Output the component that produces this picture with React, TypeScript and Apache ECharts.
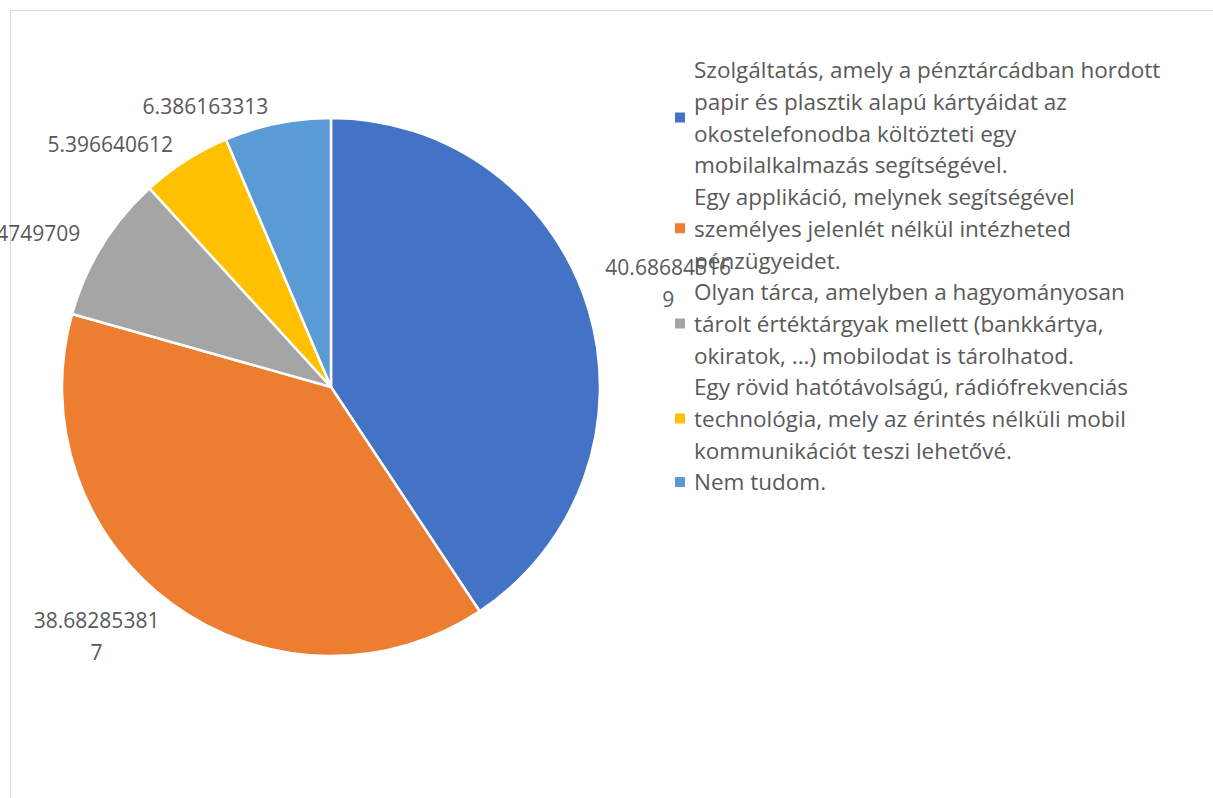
import React, { useEffect, useRef } from "react";
import * as echarts from "echarts";

const categories = [
  "Szolgáltatás, amely a pénztárcádban hordott\npapir és plasztik alapú kártyáidat az\nokostelefonodba költözteti egy\nmobilalkalmazás segítségével.",
  "Egy applikáció, melynek segítségével\nszemélyes jelenlét nélkül intézheted\npénzügyeidet.",
  "Olyan tárca, amelyben a hagyományosan\ntárolt értéktárgyak mellett (bankkártya,\nokiratok, ...) mobilodat is tárolhatod.",
  "Egy rövid hatótávolságú, rádiófrekvenciás\ntechnológia, mely az érintés nélküli mobil\nkommunikációt teszi lehetővé.",
  "Nem tudom.",
];
const values = [40.686845169, 38.682853817, 8.84749709, 5.396640612, 6.386163313];
const colors = ["#4472C4", "#ED7D31", "#A5A5A5", "#FFC000", "#5B9BD5"];

const FONT = "'Open Sans', 'Noto Sans', sans-serif";
const TEXT_COLOR = "#595959";
const VIEW_SHIFT = 100;
const CX = 331;
const CY = 387;

export default function App() {
  const ref = useRef<HTMLDivElement>(null);
  useEffect(() => {
    if (!ref.current) return;
    const chart = echarts.init(ref.current, undefined, { renderer: "svg" });
    chart.setOption({
      animation: false,
      backgroundColor: "#ffffff",
      color: colors,
      graphic: [
        {
          type: "rect",
          z: -10,
          shape: { x: 10.5, y: 10.5, width: 1300, height: 900 },
          style: { fill: "none", stroke: "#d9d9d9", lineWidth: 1 },
          silent: true,
        },
      ],
      legend: {
        orient: "vertical",
        left: 673,
        top: 54,
        padding: 0,
        icon: "rect",
        itemWidth: 12,
        itemHeight: 12,
        itemGap: 0,
        selectedMode: false,
        textStyle: {
          fontSize: 22.5,
          lineHeight: 31.7,
          color: TEXT_COLOR,
          fontFamily: FONT,
          padding: [0, 0, 0, 3],
        },
        data: categories,
      },
      series: [
        {
          type: "pie",
          left: -VIEW_SHIFT,
          top: 0,
          right: 0,
          bottom: 0,
          center: [CX + VIEW_SHIFT, CY],
          radius: 269,
          startAngle: 90,
          clockwise: true,
          avoidLabelOverlap: false,
          silent: true,
          itemStyle: { borderColor: "#ffffff", borderWidth: 2.5 },
          label: {
            show: true,
            position: "outside",
            formatter: (p: any) => String(p.value),
            fontSize: 21,
            lineHeight: 32,
            color: TEXT_COLOR,
            fontFamily: FONT,
            width: 130,
            overflow: "breakAll",
          },
          labelLine: { show: false, length: 10, length2: 0 },
          labelLayout: (params: any) => {
            const r = params.labelRect;
            const midY = r.y + r.height / 2;
            const shift = r.height / 2 - 8;
            return {
              x: r.x + r.width / 2,
              y: midY + (midY < CY ? -shift : shift),
              align: "center",
              verticalAlign: "middle",
            };
          },
          data: categories.map((name, i) => ({ name, value: values[i] })),
        },
      ],
    });
    return () => chart.dispose();
  }, []);
  return (
    <div
      ref={ref}
      style={{ position: "absolute", left: 0, top: 0, width: 1213, height: 798 }}
    />
  );
}
